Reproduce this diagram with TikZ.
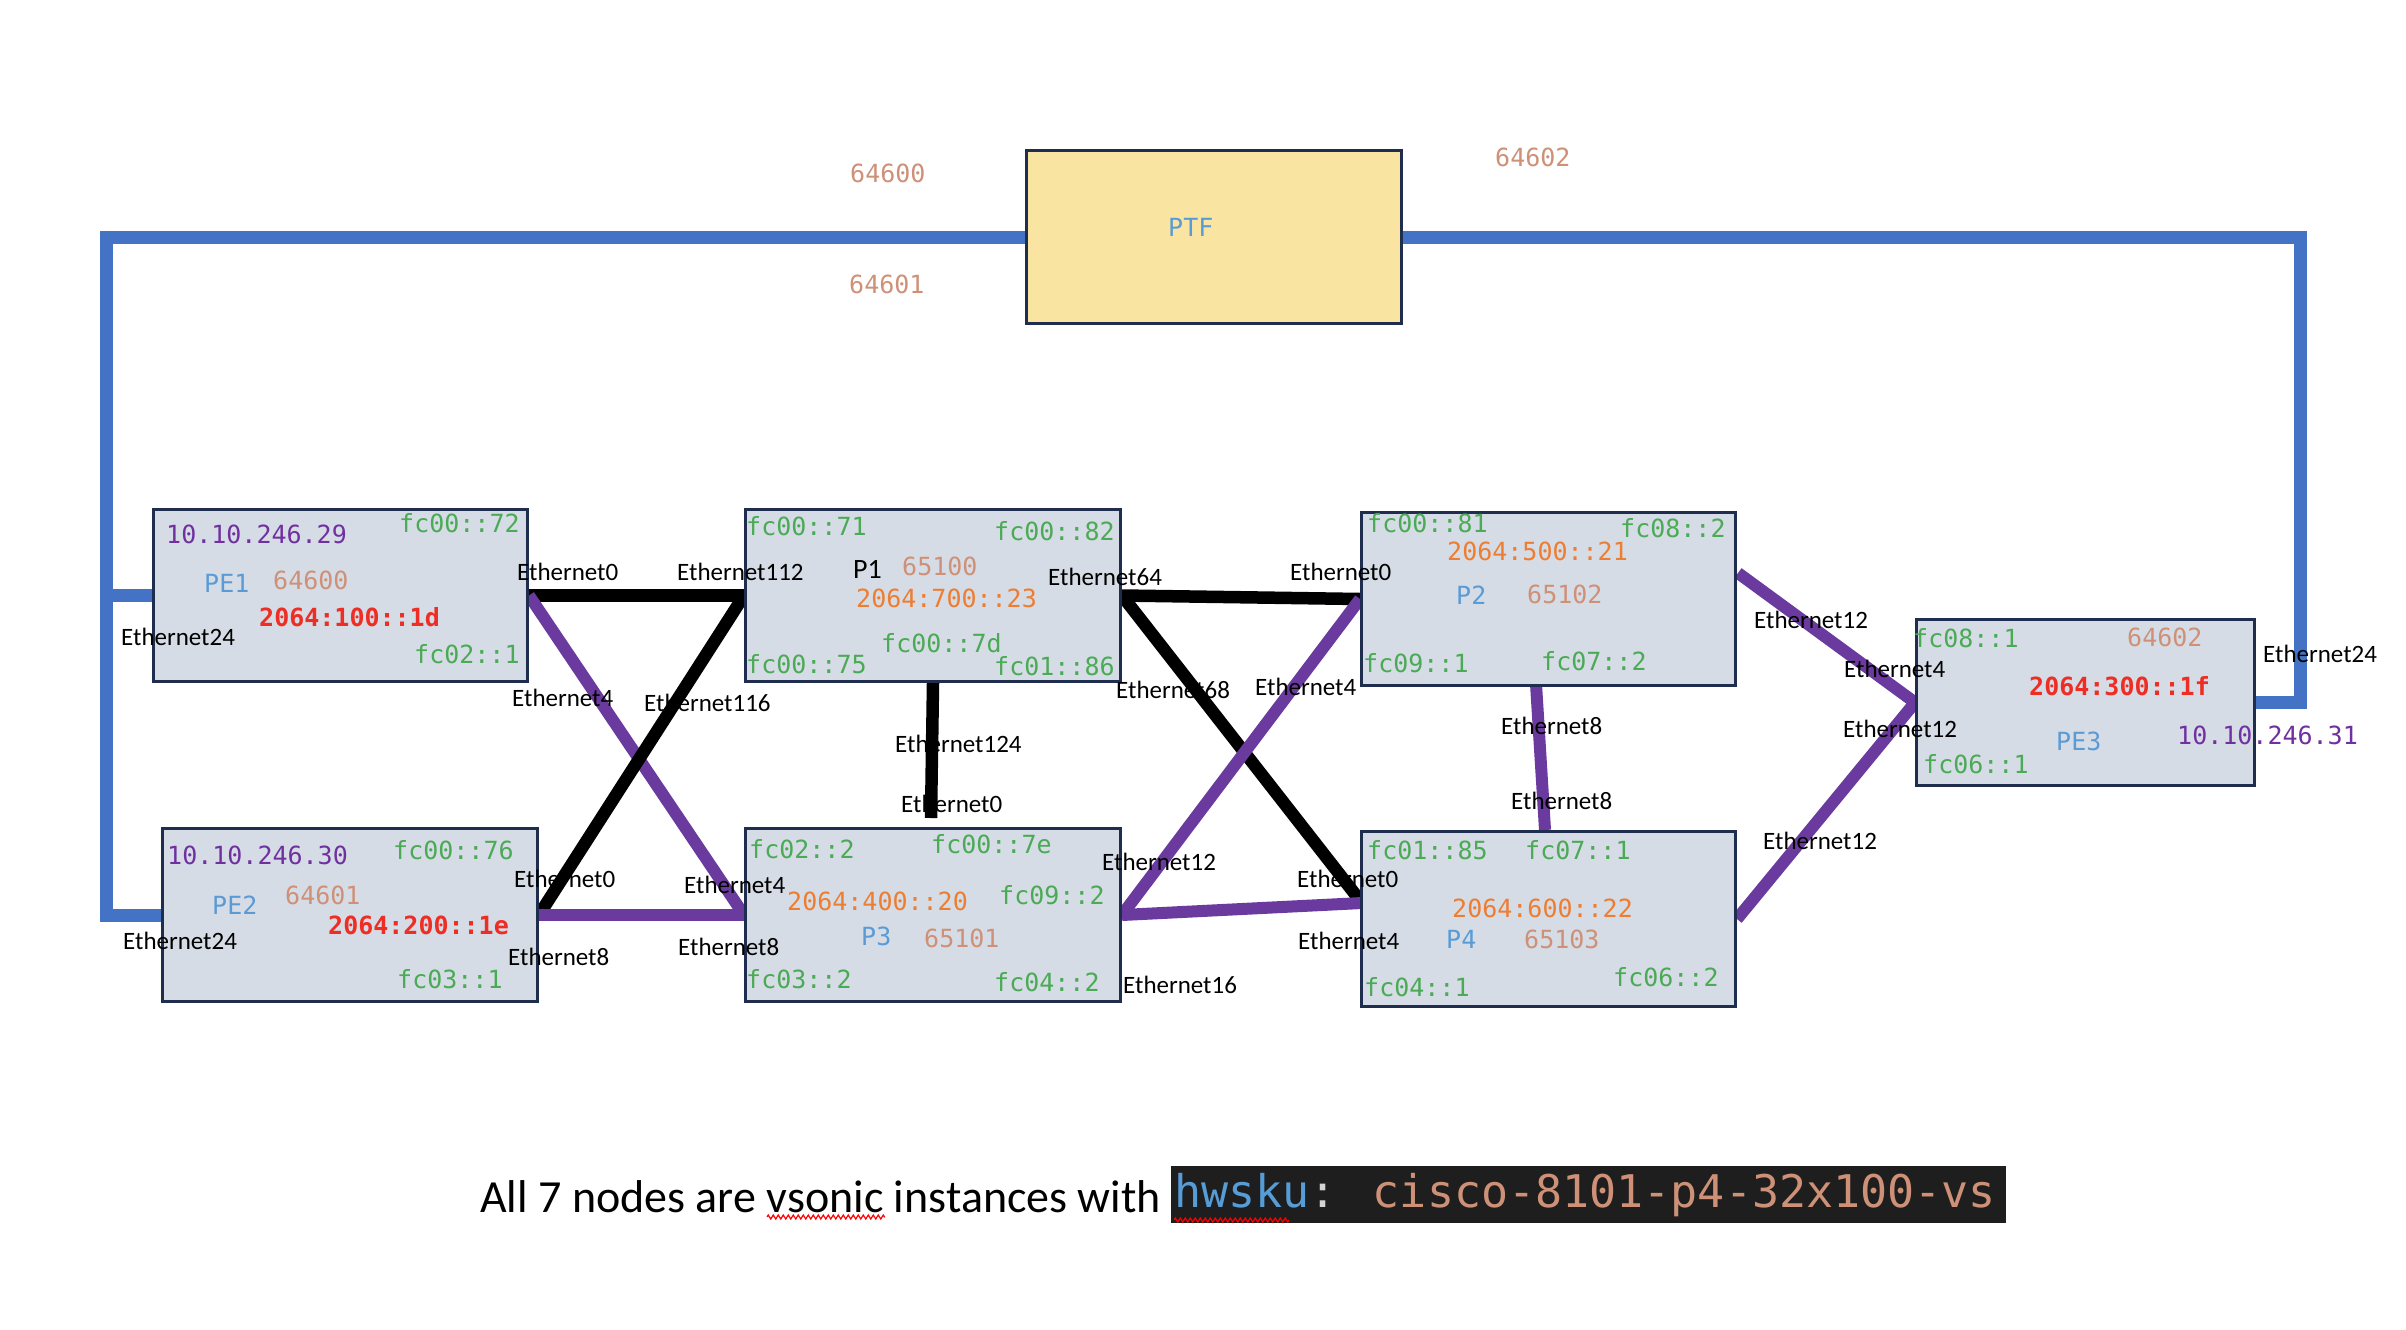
\documentclass[tikz,border=0pt]{standalone}
\usepackage{fontspec}
\setmainfont{Carlito}
\newfontfamily\monof{DejaVu Sans Mono}
\usetikzlibrary{decorations.pathmorphing}
\pgfdeclarelayer{bg}
\pgfsetlayers{bg,main}
\definecolor{boxfill}{HTML}{D6DCE5}
\definecolor{boxline}{HTML}{1F2D4E}
\definecolor{ptffill}{HTML}{F9E4A2}
\definecolor{ipgreen}{HTML}{4BAA55}
\definecolor{lopurple}{HTML}{7030A0}
\definecolor{asntan}{HTML}{CE9178}
\definecolor{sidred}{HTML}{EE2E24}
\definecolor{sidorange}{HTML}{ED7D31}
\definecolor{namblue}{HTML}{5B9BD5}
\definecolor{linkblue}{HTML}{4472C4}
\definecolor{linkpurple}{HTML}{6A3A9E}
\definecolor{codebg}{HTML}{1E1E1E}
\definecolor{codeblue}{HTML}{569CD6}
\definecolor{codegray}{HTML}{D4D4D4}
\begin{document}
\begin{tikzpicture}[x=1pt,y=-1pt,
  dev/.style={draw=boxline, line width=3pt, fill=boxfill, inner sep=0, anchor=north west},
  tx/.style={inner sep=0, anchor=west, font=\monof\fontsize{25}{30}\selectfont},
  ip/.style={tx, text=ipgreen},
  lo/.style={tx, text=lopurple},
  asn/.style={tx, text=asntan},
  sidr/.style={tx, text=sidred, font=\monof\bfseries\fontsize{25}{30}\selectfont},
  sido/.style={tx, text=sidorange},
  nm/.style={tx, text=namblue},
  eth/.style={inner sep=0, anchor=west, font=\fontsize{25}{30}\selectfont},
  blk/.style={line width=12.5pt, black},
  pur/.style={line width=12pt, linkpurple},
  blu/.style={line width=13pt, linkblue, line join=miter},
  squig/.style={red, line width=1.2pt, decorate, decoration={zigzag, amplitude=2pt, segment length=5pt}}
]
\useasboundingbox (0,0) rectangle (2406,1330);

% ---------- boxes ----------
\node[dev, fill=ptffill, minimum width=375pt, minimum height=173pt] (PTF) at (1025,149) {};
\node[dev, minimum width=374pt, minimum height=172pt] (PE1) at (152,508) {};
\node[dev, minimum width=375pt, minimum height=172pt] (P1) at (744,508) {};
\node[dev, minimum width=374pt, minimum height=173pt] (P2) at (1360,511) {};
\node[dev, minimum width=338pt, minimum height=166pt] (PE3) at (1915,618) {};
\node[dev, minimum width=375pt, minimum height=173pt] (PE2) at (161,827) {};
\node[dev, minimum width=375pt, minimum height=173pt] (P3) at (744,827) {};
\node[dev, minimum width=374pt, minimum height=175pt] (P4) at (1360,830) {};

% ---------- port coordinates ----------
\coordinate (lanel) at (106,0);
\coordinate (laner) at (2300,0);
\coordinate (p4w) at (1362,903);
\coordinate (p3top) at (931,818);
\coordinate (p2s) at (1536,684);
\coordinate (p4n) at (1545,830);
\coordinate (p2e) at (1738,573);

% ---------- links ----------
\begin{pgfonlayer}{bg}
\fill[white] (0,0) rectangle (2406,1330);
\draw[blu] (PTF.west) -- (PTF.west -| lanel) |- (PE2.west);
\draw[blu] (lanel |- PE1.west) -- (PE1.west);
\draw[blu] (PTF.east) -- (PTF.east -| laner) |- (PE3.east);
\draw[blk] (PE1.east) -- (P1.west);
\draw[pur] (PE1.east) -- (P3.west);
\draw[blk] (P1.west) -- (PE2.east);
\draw[pur] (PE2.east) -- (P3.west);
\draw[blk] (P1.south) -- (p3top);
\draw[blk] (P1.east) -- (P2.west);
\draw[blk] (P1.east) -- (p4w);
\draw[pur] (P2.west) -- (P3.east);
\draw[pur] (P3.east) -- (p4w);
\draw[pur] (p2s) -- (p4n);
\draw[pur] (p2e) -- (PE3.west);
\draw[pur] (P4.east) -- (PE3.west);
\end{pgfonlayer}

% ---------- PTF ----------
\node[nm] (ptfname) at (1168,227) {PTF};
\node[asn] (ptfa0) at (850,173) {64600};
\node[asn] (ptfa1) at (849,284) {64601};
\node[asn] (ptfa2) at (1495,157) {64602};

% ---------- PE1 ----------
\node[lo] (pe1lo) at (166,534) {10.10.246.29};
\node[ip] (pe1ipa) at (399,523) {fc00::72};
\node[nm] (pe1nm) at (204,583) {PE1};
\node[asn] (pe1asn) at (273,580) {64600};
\node[sidr] (pe1sid) at (259,617) {2064:100::1d};
\node[ip] (pe1ipb) at (414,654) {fc02::1};
\node[eth] (pe1e24) at (121,637) {Ethernet24};
\node[eth] (pe1e0) at (517,572) {Ethernet0};
\node[eth] (pe1e4) at (512,698) {Ethernet4};

% ---------- P1 ----------
\node[ip] (p1ipa) at (746,526) {fc00::71};
\node[ip] (p1ipb) at (994,531) {fc00::82};
\node[eth, font=\fontsize{28}{32}\selectfont] (p1nm) at (853,569) {P1};
\node[asn] (p1asn) at (902,566) {65100};
\node[sido] (p1sid) at (856,598) {2064:700::23};
\node[ip] (p1ipc) at (881,643) {fc00::7d};
\node[ip] (p1ipd) at (746,664) {fc00::75};
\node[ip] (p1ipe) at (994,666) {fc01::86};
\node[eth] (p1e112) at (677,572) {Ethernet112};
\node[eth] (p1e116) at (644,703) {Ethernet116};
\node[eth] (p1e64) at (1048,577) {Ethernet64};
\node[eth] (p1e68) at (1116,690) {Ethernet68};
\node[eth] (p1e124) at (895,744) {Ethernet124};

% ---------- P2 ----------
\node[ip] (p2ipa) at (1367,523) {fc00::81};
\node[ip] (p2ipb) at (1620,528) {fc08::2};
\node[sido] (p2sid) at (1447,551) {2064:500::21};
\node[nm] (p2nm) at (1456,595) {P2};
\node[asn] (p2asn) at (1527,594) {65102};
\node[ip] (p2ipc) at (1363,663) {fc09::1};
\node[ip] (p2ipd) at (1541,661) {fc07::2};
\node[eth] (p2e0) at (1290,572) {Ethernet0};
\node[eth] (p2e4) at (1255,687) {Ethernet4};
\node[eth] (p2e12) at (1754,620) {Ethernet12};
\node[eth] (p2e8) at (1501,726) {Ethernet8};

% ---------- PE3 ----------
\node[ip] (pe3ipa) at (1913,638) {fc08::1};
\node[asn] (pe3asn) at (2127,637) {64602};
\node[sidr] (pe3sid) at (2029,686) {2064:300::1f};
\node[nm] (pe3nm) at (2056,741) {PE3};
\node[lo] (pe3lo) at (2177,735) {10.10.246.31};
\node[ip] (pe3ipb) at (1923,764) {fc06::1};
\node[eth] (pe3e4) at (1844,669) {Ethernet4};
\node[eth] (pe3e12) at (1843,729) {Ethernet12};
\node[eth] (pe3e24) at (2263,654) {Ethernet24};

% ---------- PE2 ----------
\node[lo] (pe2lo) at (167,855) {10.10.246.30};
\node[ip] (pe2ipa) at (393,850) {fc00::76};
\node[nm] (pe2nm) at (212,905) {PE2};
\node[asn] (pe2asn) at (285,895) {64601};
\node[sidr] (pe2sid) at (328,925) {2064:200::1e};
\node[ip] (pe2ipb) at (397,979) {fc03::1};
\node[eth] (pe2e24) at (123,941) {Ethernet24};
\node[eth] (pe2e0) at (514,879) {Ethernet0};
\node[eth] (pe2e8) at (508,957) {Ethernet8};

% ---------- P3 ----------
\node[ip] (p3ipa) at (749,849) {fc02::2};
\node[ip] (p3ipb) at (931,844) {fc00::7e};
\node[sido] (p3sid) at (787,901) {2064:400::20};
\node[ip] (p3ipc) at (999,895) {fc09::2};
\node[nm] (p3nm) at (861,936) {P3};
\node[asn] (p3asn) at (924,938) {65101};
\node[ip] (p3ipd) at (746,979) {fc03::2};
\node[ip] (p3ipe) at (994,982) {fc04::2};
\node[eth] (p3e0) at (901,804) {Ethernet0};
\node[eth] (p3e4) at (684,885) {Ethernet4};
\node[eth] (p3e8) at (678,947) {Ethernet8};
\node[eth] (p3e12) at (1102,862) {Ethernet12};
\node[eth] (p3e16) at (1123,985) {Ethernet16};

% ---------- P4 ----------
\node[ip] (p4ipa) at (1367,850) {fc01::85};
\node[ip] (p4ipb) at (1525,850) {fc07::1};
\node[sido] (p4sid) at (1452,908) {2064:600::22};
\node[nm] (p4nm) at (1446,939) {P4};
\node[asn] (p4asn) at (1524,939) {65103};
\node[ip] (p4ipc) at (1364,987) {fc04::1};
\node[ip] (p4ipd) at (1613,977) {fc06::2};
\node[eth] (p4e0) at (1297,879) {Ethernet0};
\node[eth] (p4e4) at (1298,941) {Ethernet4};
\node[eth] (p4e8) at (1511,801) {Ethernet8};
\node[eth] (p4e12) at (1763,841) {Ethernet12};

% ---------- footer ----------
\node[eth, font=\fontsize{46}{50}\selectfont] (foot) at (480,1197) {All 7 nodes are vsonic instances with};
\fill[codebg] (1171,1166) rectangle (2006,1223);
\node[inner sep=0, anchor=west, font=\monof\fontsize{45}{50}\selectfont] (code) at (1174,1195)
  {\textcolor{codeblue}{hwsku}\textcolor{codegray}{:} \textcolor{asntan}{cisco-8101-p4-32x100-vs}};
\draw[squig] (767,1217) -- (885,1217);
\draw[squig] (1174,1220) -- (1289,1220);
\end{tikzpicture}
\end{document}
